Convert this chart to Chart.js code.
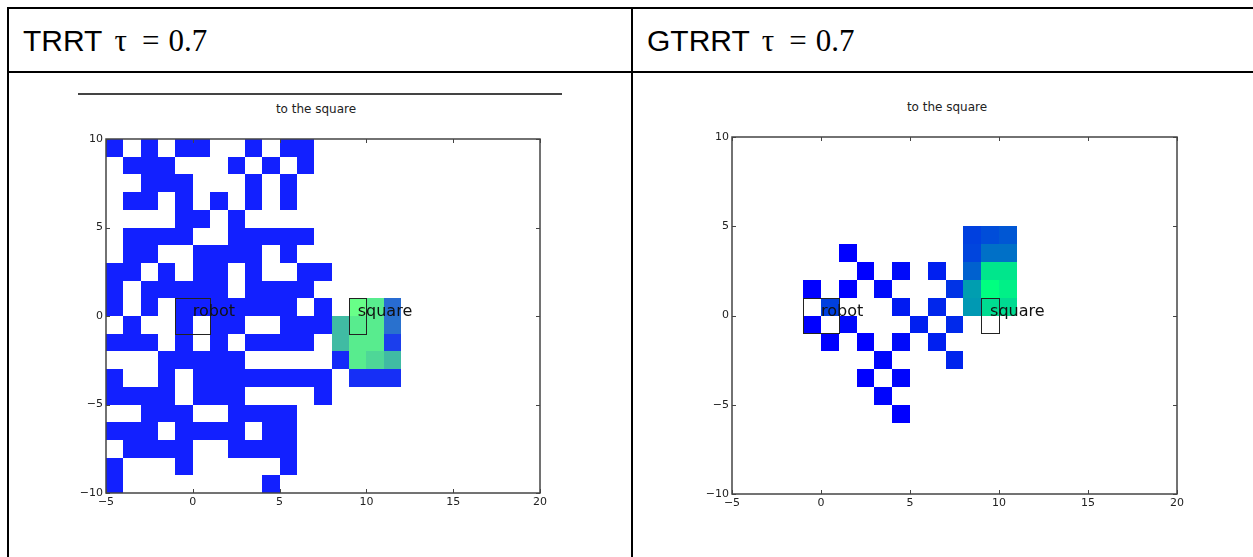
<!DOCTYPE html>
<html>
<head>
<meta charset="utf-8">
<script src="https://cdn.jsdelivr.net/npm/chart.js@4.4.1/dist/chart.umd.min.js"></script>
<style>
  body { margin: 0; background: #fff; width: 1253px; height: 557px; overflow: hidden; position: relative; }
  .rule { position: absolute; background: #000; }
  .head { position: absolute; top: 24px; font-family: 'Liberation Sans', Arial, sans-serif; font-size: 30px; line-height: 34px; color: #000; white-space: nowrap; }
  .head .m { font-family: 'Liberation Serif', 'Times New Roman', serif; font-size: 31px; }
  .sub { position: absolute; font-family: 'DejaVu Sans', sans-serif; font-size: 12px; line-height: 14px; color: #222; transform: translateX(-50%); white-space: nowrap; }
  canvas { position: absolute; }
</style>
</head>
<body>
<div class="rule" style="left:7px; top:7px; width:1250px; height:2px"></div>
<div class="rule" style="left:7px; top:71px; width:1250px; height:2px"></div>
<div class="rule" style="left:7px; top:7px; width:2px; height:560px"></div>
<div class="rule" style="left:631px; top:7px; width:2px; height:560px"></div>

<div class="head" style="left:23px">TRRT<span class="m" style="margin-left:12px">τ</span><span class="m" style="margin-left:15px">=</span><span class="m" style="margin-left:9px">0.7</span></div>
<div class="head" style="left:647px">GTRRT<span class="m" style="margin-left:12px">τ</span><span class="m" style="margin-left:15px">=</span><span class="m" style="margin-left:9px">0.7</span></div>

<div class="rule" style="left:78px; top:93px; width:484px; height:2px; background:#444"></div>
<div class="sub" style="left:316px; top:102px">to the square</div>
<div class="sub" style="left:947px; top:100px">to the square</div>

<canvas id="trrt" width="500" height="400" style="left:56px; top:120px"></canvas>
<canvas id="gtrrt" width="511" height="403" style="left:682px; top:118px"></canvas>

<script>
const xTicks = [-5, 0, 5, 10, 15, 20];
const yTicks = [-10, -5, 0, 5, 10];

// TRRT explored cells: one string per row, y = 9 down to y = -10, columns x = -5 .. 7
const trrtRowTop = 9;
const trrtColStart = -5;
const trrtRows = [
  '1010110010110',
  '0111000101010',
  '0011100010100',
  '0110101010100',
  '0000110100000',
  '0111100111110',
  '0110011110100',
  '1101011010011',
  '1011111011110',
  '1010111111101',
  '0100101100111',
  '1110101011110',
  '0001111100000',
  '1001011111111',
  '1111011100001',
  '0011100111100',
  '1110111101100',
  '0111100111100',
  '1000100000100',
  '1000000001000'
];

// TRRT cells near the goal: [x, y, value]
const trrtHeat = [
  [9, 0, 1.0], [10, 0, 0.9], [11, 0, 0.3],
  [8, -1, 0.62], [9, -1, 0.9], [10, -1, 0.9], [11, -1, 0.32],
  [8, -2, 0.62], [9, -2, 0.9], [10, -2, 0.9], [11, -2, 0.12],
  [8, -3, 0.04], [9, -3, 0.9], [10, -3, 0.78], [11, -3, 0.62],
  [9, -4, 0.06], [10, -4, 0.06], [11, -4, 0.06]
];

// GTRRT cells: [x, y, value]
const gtrrtCells = [
  [8, 4, 0.25], [9, 4, 0.3], [10, 4, 0.34],
  [1, 3, 0], [8, 3, 0.27], [9, 3, 0.44], [10, 3, 0.44],
  [2, 2, 0], [4, 2, 0.04], [6, 2, 0.12], [8, 2, 0.38], [9, 2, 0.9], [10, 2, 0.9],
  [-1, 1, 0], [1, 1, 0], [3, 1, 0.04], [7, 1, 0.2], [8, 1, 0.62], [9, 1, 1.0], [10, 1, 0.94],
  [0, 0, 0.25], [4, 0, 0.1], [6, 0, 0.15], [8, 0, 0.6], [9, 0, 0.86], [10, 0, 0.86],
  [-1, -1, 0], [1, -1, 0.03], [5, -1, 0.12], [7, -1, 0.16],
  [0, -2, 0], [2, -2, 0], [4, -2, 0.04], [6, -2, 0.12],
  [3, -3, 0.02], [7, -3, 0.14],
  [2, -4, 0], [4, -4, 0.02],
  [3, -5, 0.02],
  [4, -6, 0]
];

// robot and goal boxes: [x, y, w, h]
const boxNames = ['robot', 'square'];
const boxRects = [[-1, -1, 2, 2], [9, -1, 1, 2]];

// colour maps
function winter(v) {
  return `rgb(0, ${Math.round(255 * v)}, ${Math.round(255 * (1 - v / 2))})`;
}
function trrtMap(v) {
  const stops = [[0, [18, 32, 255]], [0.6, [62, 184, 164]], [0.9, [88, 236, 142]], [1, [104, 255, 136]]];
  let k = 0;
  while (k < stops.length - 2 && v > stops[k + 1][0]) k++;
  const [v0, c0] = stops[k], [v1, c1] = stops[k + 1];
  const f = Math.min(1, Math.max(0, (v - v0) / (v1 - v0)));
  const c = c0.map((a, i) => Math.round(a + (c1[i] - a) * f));
  return `rgb(${c[0]}, ${c[1]}, ${c[2]})`;
}

const trrtPoints = [];
trrtRows.forEach((row, r) => {
  [...row].forEach((ch, i) => {
    if (ch === '1') trrtPoints.push({ x: trrtColStart + i, y: trrtRowTop - r, v: 0 });
  });
});
const toPts = arr => arr.map(([x, y, v]) => ({ x, y, v }));

const minus = v => (v < 0 ? '\u2212' + (-v) : String(v));

// draws each data point as a unit cell, then boxes, labels, frame and inward ticks
const cellPlugin = {
  id: 'cells',
  beforeDatasetsDraw(chart) {
    const { ctx, scales: { x, y } } = chart;
    ctx.save();
    chart.data.datasets.forEach(ds => {
      ds.data.forEach(p => {
        const l = Math.round(x.getPixelForValue(p.x));
        const r = Math.round(x.getPixelForValue(p.x + 1));
        const t = Math.round(y.getPixelForValue(p.y + 1));
        const b = Math.round(y.getPixelForValue(p.y));
        ctx.fillStyle = ds.colormap(p.v);
        ctx.fillRect(l, t, r - l, b - t);
      });
    });
    ctx.restore();
  },
  afterDatasetsDraw(chart) {
    const { ctx, chartArea: a, scales: { x, y } } = chart;
    ctx.save();
    ctx.strokeStyle = '#222';
    ctx.lineWidth = 1;
    boxRects.forEach(([bx, by, bw, bh], i) => {
      const l = Math.round(x.getPixelForValue(bx)) + 0.5;
      const r = Math.round(x.getPixelForValue(bx + bw)) + 0.5;
      const t = Math.round(y.getPixelForValue(by + bh)) + 0.5;
      const b = Math.round(y.getPixelForValue(by)) + 0.5;
      ctx.strokeRect(l, t, r - l, b - t);
      ctx.fillStyle = '#111';
      ctx.font = '16px "DejaVu Sans"';
      ctx.textAlign = 'left';
      ctx.textBaseline = 'alphabetic';
      ctx.fillText(boxNames[i], x.getPixelForValue(bx + bw / 2), y.getPixelForValue(by + bh / 2));
    });
    ctx.strokeStyle = '#444';
    ctx.lineWidth = 1;
    ctx.beginPath();
    xTicks.forEach(v => {
      const px = Math.round(x.getPixelForValue(v)) + 0.5;
      ctx.moveTo(px, a.bottom); ctx.lineTo(px, a.bottom - 4);
      ctx.moveTo(px, a.top); ctx.lineTo(px, a.top + 4);
    });
    yTicks.forEach(v => {
      const py = Math.round(y.getPixelForValue(v)) + 0.5;
      ctx.moveTo(a.left, py); ctx.lineTo(a.left + 4, py);
      ctx.moveTo(a.right, py); ctx.lineTo(a.right - 4, py);
    });
    ctx.stroke();
    ctx.lineWidth = 1.5;
    ctx.strokeRect(a.left, a.top, a.right - a.left, a.bottom - a.top);
    ctx.restore();
  }
};

function makeChart(id, datasets) {
  const tickFont = { family: 'DejaVu Sans', size: 11 };
  return new Chart(document.getElementById(id), {
    type: 'scatter',
    data: { datasets },
    options: {
      responsive: false,
      animation: false,
      layout: { padding: { top: 19, right: 16, left: 0, bottom: 0 } },
      plugins: { legend: { display: false }, tooltip: { enabled: false } },
      elements: { point: { radius: 0, hoverRadius: 0 } },
      scales: {
        x: {
          type: 'linear', min: xTicks[0], max: xTicks[xTicks.length - 1],
          grid: { display: false, drawTicks: false },
          border: { display: false },
          ticks: { stepSize: 5, padding: 3, color: '#222', font: tickFont, maxRotation: 0, autoSkip: false, callback: minus },
          afterFit: s => { s.height = 27; }
        },
        y: {
          type: 'linear', min: yTicks[0], max: yTicks[yTicks.length - 1],
          grid: { display: false, drawTicks: false },
          border: { display: false },
          ticks: { stepSize: 5, padding: 3, color: '#222', font: tickFont, autoSkip: false, callback: minus },
          afterFit: s => { s.width = 50; }
        }
      }
    },
    plugins: [cellPlugin]
  });
}

makeChart('trrt', [
  { label: 'explored', data: trrtPoints, colormap: trrtMap },
  { label: 'near goal', data: toPts(trrtHeat), colormap: trrtMap }
]);
makeChart('gtrrt', [
  { label: 'explored', data: toPts(gtrrtCells), colormap: winter }
]);
</script>
</body>
</html>
